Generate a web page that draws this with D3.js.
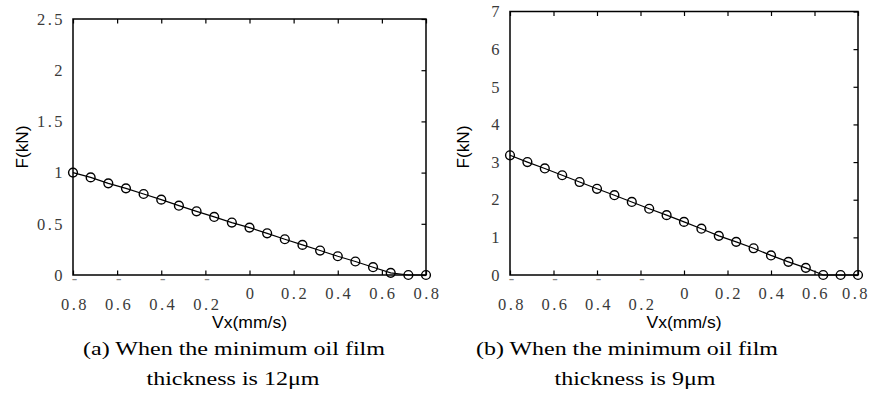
<!DOCTYPE html>
<html>
<head>
<meta charset="utf-8">
<script src="https://cdn.jsdelivr.net/npm/d3@7"></script>
<style>
  html, body { margin: 0; padding: 0; background: #fff; }
  svg { display: block; }
</style>
</head>
<body>
<svg id="chart" width="871" height="394"></svg>
<script>
// ---- data ----
const vx = [-0.8, -0.72, -0.64, -0.56, -0.48, -0.4, -0.32, -0.24, -0.16, -0.08, 0,
            0.08, 0.16, 0.24, 0.32, 0.4, 0.48, 0.56, 0.64, 0.72, 0.8];
const forceA = [1.0, 0.953, 0.895, 0.846, 0.791, 0.736, 0.677, 0.622, 0.567, 0.512, 0.463,
                0.407, 0.349, 0.294, 0.239, 0.183, 0.132, 0.076, 0.021, 0, 0];
const forceB = [3.18, 3.0, 2.83, 2.65, 2.47, 2.29, 2.12, 1.94, 1.76, 1.59, 1.41,
                1.23, 1.04, 0.88, 0.71, 0.52, 0.35, 0.19, 0, 0, 0];
const xTicks = [-0.8, -0.6, -0.4, -0.2, 0, 0.2, 0.4, 0.6, 0.8];
const yTicksA = [0, 0.5, 1, 1.5, 2, 2.5];
const yTicksB = [0, 1, 2, 3, 4, 5, 6, 7];
const xLabel = "Vx(mm/s)";
const yLabel = "F(kN)";
const captionA = ["(a) When the minimum oil film", "thickness is 12\u03bcm"];
const captionB = ["(b) When the minimum oil film", "thickness is 9\u03bcm"];

const SERIF = '"Liberation Serif", "Times New Roman", serif';
const SANS = '"Liberation Sans", Arial, sans-serif';

const svg = d3.select("#chart");
const W = 871;

function fmt(v) {
  return Math.abs(v).toString();
}

function drawPanel(cfg) {
  const { left, right, top, bottom, yMax, yTicks, values, caption, capW, yLabelX, capCx } = cfg;
  const x = d3.scaleLinear().domain([-0.8, 0.8]).range([left, right]);
  const y = d3.scaleLinear().domain([0, yMax]).range([bottom, top]);
  const g = svg.append("g");

  const tickLen = 4.5;
  const axBottom = d3.axisBottom(x).tickValues(xTicks).tickSizeInner(-tickLen).tickSizeOuter(0).tickFormat("");
  const axTop = d3.axisTop(x).tickValues(xTicks).tickSizeInner(-tickLen).tickSizeOuter(0).tickFormat("");
  const axRight = d3.axisRight(y).tickValues(yTicks).tickSizeInner(-tickLen).tickSizeOuter(0).tickFormat("");
  g.append("g").attr("transform", `translate(0,${bottom})`).call(axBottom);
  g.append("g").attr("transform", `translate(0,${top})`).call(axTop);
  g.append("g").attr("transform", `translate(${right},0)`).call(axRight);
  g.selectAll(".domain").remove();
  g.selectAll(".tick line").attr("stroke", "#000").attr("stroke-width", 1.2);

  g.append("rect")
    .attr("x", left).attr("y", top)
    .attr("width", right - left).attr("height", bottom - top)
    .attr("fill", "none").attr("stroke", "#000").attr("stroke-width", 1.5);

  // y tick labels
  g.selectAll(".ylab").data(yTicks).enter().append("text")
    .style("font-family", SERIF)
    .attr("x", left - 8)
    .attr("y", d => y(d))
    .attr("dy", "0.35em")
    .attr("text-anchor", "end")
    .attr("font-size", 16.5)
    .attr("letter-spacing", 2.5)
    .attr("fill", "#3a3a3a")
    .text(d => fmt(d));

  // x tick labels
  xTicks.forEach(t => {
    let px = x(t) + 1.5;
    let anchor = "middle";
    if (px + 13 > W) { px = W - 1; anchor = "end"; }
    if (t < 0) {
      g.append("text")
        .style("font-family", SERIF)
        .attr("x", x(t) + 1.5).attr("y", bottom + 8.5)
        .attr("text-anchor", "middle")
        .attr("font-size", 16.5)
        .attr("fill", "#888")
        .text("-");
      g.append("text")
        .style("font-family", SERIF)
        .attr("x", x(t) + 2).attr("y", bottom + 34.5)
        .attr("text-anchor", "middle")
        .attr("font-size", 16.5)
        .attr("letter-spacing", 2.5)
        .attr("fill", "#3a3a3a")
        .text(fmt(t));
    } else {
      g.append("text")
        .style("font-family", SERIF)
        .attr("x", px).attr("y", bottom + 23.5)
        .attr("text-anchor", anchor)
        .attr("font-size", 16.5)
        .attr("letter-spacing", 2.5)
        .attr("fill", "#3a3a3a")
        .text(fmt(t));
    }
  });

  const line = d3.line().x((d, i) => x(vx[i])).y(d => y(d));
  g.append("path").datum(values)
    .attr("d", line).attr("fill", "none")
    .attr("stroke", "#000").attr("stroke-width", 1.2);

  g.selectAll(".pt").data(values).enter().append("circle")
    .attr("cx", (d, i) => x(vx[i]))
    .attr("cy", d => y(d))
    .attr("r", 4.4)
    .attr("fill", "none")
    .attr("stroke", "#000")
    .attr("stroke-width", 1.4);

  const cx = (left + right) / 2;
  g.append("text")
    .style("font-family", SANS)
    .attr("x", cx).attr("y", 328)
    .attr("text-anchor", "middle")
    .attr("font-size", 16)
    .attr("textLength", 75).attr("lengthAdjust", "spacingAndGlyphs")
    .attr("fill", "#000")
    .text(xLabel);

  g.append("text")
    .style("font-family", SANS)
    .attr("transform", `translate(${yLabelX},147) rotate(-90)`)
    .attr("text-anchor", "middle")
    .attr("font-size", 16.5)
    .attr("textLength", 43).attr("lengthAdjust", "spacingAndGlyphs")
    .attr("fill", "#000")
    .text(yLabel);

  g.append("text")
    .style("font-family", SERIF)
    .attr("x", capCx[0]).attr("y", 355)
    .attr("text-anchor", "middle")
    .attr("font-size", 19.5)
    .attr("textLength", capW[0]).attr("lengthAdjust", "spacingAndGlyphs")
    .attr("fill", "#000")
    .text(caption[0]);
  g.append("text")
    .style("font-family", SERIF)
    .attr("x", capCx[1]).attr("y", 385)
    .attr("text-anchor", "middle")
    .attr("font-size", 19.5)
    .attr("textLength", capW[1]).attr("lengthAdjust", "spacingAndGlyphs")
    .attr("fill", "#000")
    .text(caption[1]);
}

drawPanel({
  left: 73, right: 426, top: 19, bottom: 275,
  yMax: 2.5, yTicks: yTicksA, values: forceA, caption: captionA,
  capW: [302, 173], capCx: [234, 233], yLabelX: 28
});
drawPanel({
  left: 510, right: 858, top: 11.5, bottom: 275,
  yMax: 7, yTicks: yTicksB, values: forceB, caption: captionB,
  capW: [302, 161], capCx: [627, 635], yLabelX: 469
});
</script>
</body>
</html>
